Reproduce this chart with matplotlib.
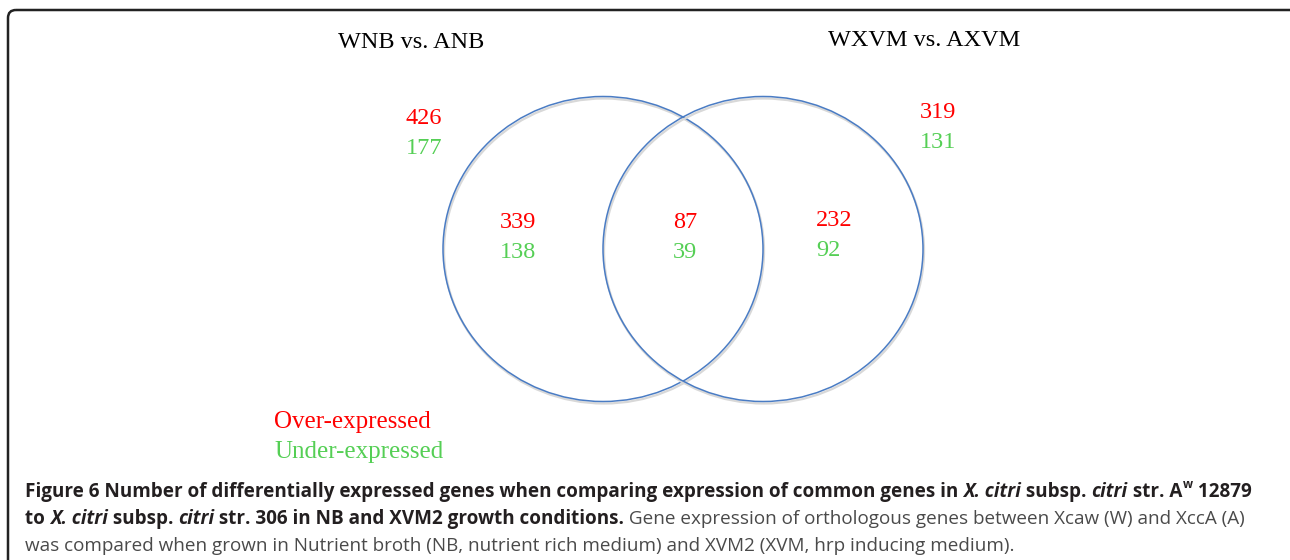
"""Venn diagram of differentially expressed genes (WNB vs. ANB, WXVM vs. AXVM)"""

import matplotlib
matplotlib.use("Agg")
import matplotlib.pyplot as plt
from matplotlib.patches import Ellipse, FancyBboxPatch

# Data
set_names = ["WNB vs. ANB", "WXVM vs. AXVM"]
total_over = [426, 319]
total_under = [177, 131]
region_names = ["only_left", "both", "only_right"]
region_over = [339, 87, 232]
region_under = [138, 39, 92]
legend_labels = ["Over-expressed", "Under-expressed"]

RED = "#ff0000"
GREEN = "#55cf55"
BLUE = "#4a7cc4"
SERIF = "Liberation Serif"
CAP_FONT = "Open Sans"

fig = plt.figure(figsize=(12.9, 5.6), dpi=100)
ax = fig.add_axes([0, 0, 1, 1])
ax.set_xlim(0, 1290)
ax.set_ylim(560, 0)
ax.axis("off")

# Frame around the figure panel (bottom runs off the page)
frame = FancyBboxPatch((8, 10), 1290, 620, boxstyle="round,pad=0,rounding_size=8",
                       fill=False, edgecolor="#222222", linewidth=1.8)
ax.add_patch(frame)

# Circles
centers = [(603, 249), (763, 249)]
for cx, cy in centers:
    ax.add_patch(Ellipse((cx + 1, cy + 2), 320, 305, fill=False,
                         edgecolor="#d8d8d8", linewidth=1.6))
    ax.add_patch(Ellipse((cx, cy), 320, 305, fill=False, edgecolor=BLUE, linewidth=1.1))

# Set titles
title_pos = [(411, 43), (924, 41)]
for name, (x, y) in zip(set_names, title_pos):
    ax.text(x, y, name, ha="center", va="center", fontsize=17.5, family=SERIF, color="black")

# Totals outside circles
total_pos = [(424, 118), (938, 113)]
for over, under, (x, y) in zip(total_over, total_under, total_pos):
    ax.text(x, y, str(over), ha="center", va="center", fontsize=17.5, family=SERIF, color=RED)
    ax.text(x, y + 30, str(under), ha="center", va="center", fontsize=17.5, family=SERIF, color=GREEN)

# Region counts
region_pos = [(500, 223), (673, 223), (816, 221)]
for over, under, (x, y) in zip(region_over, region_under, region_pos):
    ax.text(x, y, str(over), ha="left", va="center", fontsize=17.5, family=SERIF, color=RED)
    ax.text(x, y + 29, str(under), ha="left", va="center", fontsize=17.5, family=SERIF, color=GREEN)

# Legend text
ax.text(274, 422, legend_labels[0], ha="left", va="center", fontsize=18, family=SERIF, color=RED)
ax.text(274, 452, legend_labels[1], ha="left", va="center", fontsize=18, family=SERIF, color=GREEN)

# Caption, built from runs of differently styled text
renderer = fig.canvas.get_renderer()
DARK = "#231f20"
GRAY = "#4a4a4a"
cap_size = 13.6


def put_runs(runs, x0, y):
    x = x0
    for txt, weight, style, color in runs:
        t = ax.text(x, y, txt, ha="left", va="baseline", fontsize=cap_size,
                    family=CAP_FONT, fontweight=weight, fontstyle=style, color=color)
        bb = t.get_window_extent(renderer=renderer)
        x = ax.transData.inverted().transform((bb.x1, bb.y0))[0]
    return x


line1 = [
    ("Figure 6 Number of differentially expressed genes when comparing expression of common genes in ", "bold", "normal", DARK),
    ("X. citri", "bold", "italic", DARK),
    (" subsp. ", "bold", "normal", DARK),
    ("citri", "bold", "italic", DARK),
    (" str. A", "bold", "normal", DARK),
]
xe = put_runs(line1, 25, 497)
t = ax.text(xe + 1, 488, "w", ha="left", va="baseline", fontsize=8.5, family=CAP_FONT,
            fontweight="bold", color=DARK)
bb = t.get_window_extent(renderer=renderer)
xe = ax.transData.inverted().transform((bb.x1, bb.y0))[0]
put_runs([(" 12879", "bold", "normal", DARK)], xe, 497)

line2 = [
    ("to ", "bold", "normal", DARK),
    ("X. citri", "bold", "italic", DARK),
    (" subsp. ", "bold", "normal", DARK),
    ("citri", "bold", "italic", DARK),
    (" str. 306 in NB and XVM2 growth conditions.", "bold", "normal", DARK),
    (" Gene expression of orthologous genes between Xcaw (W) and XccA (A)", "normal", "normal", GRAY),
]
put_runs(line2, 25, 524)

line3 = [
    ("was compared when grown in Nutrient broth (NB, nutrient rich medium) and XVM2 (XVM, hrp inducing medium).",
     "normal", "normal", GRAY),
]
put_runs(line3, 25, 551)

fig.savefig("out.png", dpi=100)
